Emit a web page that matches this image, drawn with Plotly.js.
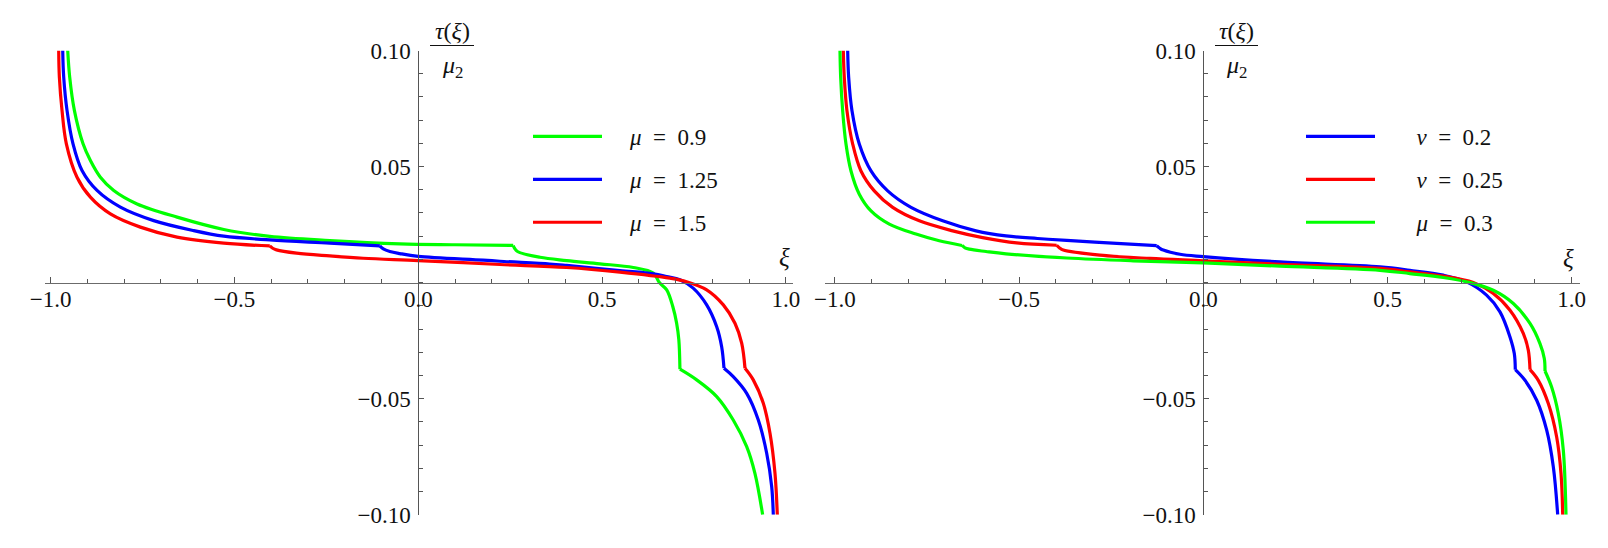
<!DOCTYPE html>
<html>
<head>
<meta charset="utf-8">
<script src="https://cdn.plot.ly/plotly-3.0.1.min.js"></script>
<style>html,body{margin:0;padding:0;background:#fff;}#chart{width:1608px;height:548px;}</style>
</head>
<body>
<div id="chart"></div>
<script>
// ---------- data ----------
// left panel
const xi_mu09 = [-0.9537,-0.9483,-0.9356,-0.9120,-0.8920,-0.8648,-0.8285,-0.7650,-0.6561,-0.5291,-0.4039,-0.2406,-0.0500,0.1000,0.2584,0.2620,0.2700,0.3310,0.4036,0.4943,0.5850,0.6394,0.6560,0.6760,0.6925,0.7030,0.7090,0.7120,0.7575,0.8120,0.8570,0.8936,0.9160,0.9370];
const tau_mu09 = [0.1000,0.0885,0.0742,0.0598,0.0526,0.0454,0.0397,0.0339,0.0282,0.0229,0.0199,0.0181,0.0167,0.0163,0.0160,0.0148,0.0134,0.0109,0.0095,0.0081,0.0065,0.0041,0.0000,-0.0031,-0.0103,-0.0175,-0.0247,-0.0373,-0.0419,-0.0491,-0.0592,-0.0707,-0.0822,-0.1000];
const cusps_mu09 = [14, 27];

const xi_mu125 = [-0.9673,-0.9646,-0.9556,-0.9393,-0.9148,-0.8739,-0.8104,-0.7197,-0.6108,-0.5291,-0.4039,-0.2406,-0.1045,-0.0950,-0.0773,-0.0500,0.0000,0.1767,0.2221,0.3580,0.4036,0.5487,0.6394,0.6758,0.7120,0.7480,0.7847,0.8120,0.8255,0.8318,0.8570,0.8936,0.9252,0.9480,0.9616,0.9660];
const tau_mu125 = [0.1000,0.0885,0.0742,0.0598,0.0483,0.0397,0.0325,0.0267,0.0224,0.0200,0.0184,0.0170,0.0158,0.0145,0.0134,0.0125,0.0113,0.0097,0.0092,0.0080,0.0074,0.0052,0.0038,0.0026,0.0012,-0.0024,-0.0096,-0.0190,-0.0276,-0.0369,-0.0405,-0.0477,-0.0592,-0.0735,-0.0879,-0.1000];
const cusps_mu125 = [12, 29];

const xi_mu15 = [-0.9782,-0.9764,-0.9692,-0.9574,-0.9284,-0.8920,-0.8376,-0.7560,-0.6562,-0.5291,-0.4039,-0.3960,-0.3857,-0.3312,-0.2406,-0.1500,0.0000,0.2220,0.4036,0.5487,0.6848,0.7300,0.7847,0.8300,0.8617,0.8800,0.8890,0.9115,0.9388,0.9570,0.9706,0.9769];
const tau_mu15 = [0.1000,0.0885,0.0742,0.0598,0.0454,0.0368,0.0296,0.0239,0.0196,0.0170,0.0158,0.0148,0.0141,0.0127,0.0115,0.0105,0.0095,0.0078,0.0065,0.0045,0.0019,0.0004,-0.0031,-0.0096,-0.0175,-0.0261,-0.0369,-0.0419,-0.0520,-0.0649,-0.0822,-0.1000];
const cusps_mu15 = [10, 26];

// right panel
const xi_nu02 = [-0.9653,-0.9626,-0.9536,-0.9338,-0.9020,-0.8567,-0.7934,-0.7074,-0.6170,-0.5356,-0.4500,-0.3708,-0.2351,-0.1265,-0.1180,-0.1086,-0.0633,0.0000,0.2082,0.4797,0.5608,0.6512,0.7146,0.7689,0.8053,0.8325,0.8442,0.8469,0.8732,0.9050,0.9321,0.9501,0.9620];
const tau_nu02 = [0.1000,0.0884,0.0740,0.0597,0.0481,0.0395,0.0324,0.0266,0.0223,0.0201,0.0190,0.0182,0.0169,0.0159,0.0148,0.0140,0.0122,0.0112,0.0089,0.0068,0.0053,0.0032,0.0003,-0.0054,-0.0126,-0.0234,-0.0306,-0.0375,-0.0421,-0.0507,-0.0636,-0.0794,-0.1000];
const cusps_nu02 = [13, 27];

const xi_nu025 = [-0.9772,-0.9745,-0.9672,-0.9517,-0.9292,-0.8931,-0.8431,-0.7708,-0.6803,-0.5988,-0.5066,-0.3980,-0.3900,-0.3800,-0.2804,-0.1447,0.0000,0.2082,0.4797,0.5608,0.6512,0.7329,0.7872,0.8325,0.8686,0.8822,0.8868,0.9093,0.9365,0.9592,0.9710,0.9756];
const tau_nu025 = [0.1000,0.0884,0.0740,0.0597,0.0481,0.0395,0.0324,0.0266,0.0223,0.0194,0.0171,0.0161,0.0149,0.0140,0.0118,0.0104,0.0094,0.0079,0.0061,0.0046,0.0028,0.0000,-0.0047,-0.0119,-0.0219,-0.0291,-0.0375,-0.0421,-0.0521,-0.0665,-0.0823,-0.1000];
const cusps_nu025 = [11, 26];

const xi_mu03 = [-0.9862,-0.9843,-0.9789,-0.9699,-0.9563,-0.9338,-0.9020,-0.8523,-0.7799,-0.7166,-0.6550,-0.6470,-0.6352,-0.5899,-0.5356,-0.3708,-0.1900,0.0000,0.2082,0.4797,0.5608,0.6512,0.7239,0.7872,0.8415,0.8868,0.9139,0.9256,0.9275,0.9455,0.9636,0.9772,0.9845];
const tau_mu03 = [0.1000,0.0884,0.0740,0.0597,0.0481,0.0381,0.0309,0.0252,0.0209,0.0180,0.0160,0.0150,0.0144,0.0134,0.0124,0.0106,0.0094,0.0085,0.0071,0.0053,0.0039,0.0022,0.0000,-0.0033,-0.0090,-0.0176,-0.0263,-0.0327,-0.0381,-0.0450,-0.0564,-0.0722,-0.1000];
const cusps_mu03 = [10, 28];

const legendLeft  = ['\u2002\u2002<i>μ</i>\u2002=\u20020.9', '\u2002\u2002<i>μ</i>\u2002=\u20021.25', '\u2002\u2002<i>μ</i>\u2002=\u20021.5'];
const legendRight = ['\u2002\u2002\u2002\u200a<i>ν</i>\u2002=\u20020.2', '\u2002\u2002\u2002\u200a<i>ν</i>\u2002=\u20020.25', '\u2002\u2002\u2002\u200a<i>μ</i>\u2002=\u20020.3'];

const xTickVals = [-1, -0.5, 0, 0.5, 1];
const xTickText = ['\u22121.0', '\u22120.5', '0.0', '0.5', '1.0'];
const yTickVals = [-0.1, -0.05, 0.05, 0.1];
const yTickText = ['\u22120.10', '\u22120.05', '0.05', '0.10'];

// ---------- styling ----------
const GREEN = 'rgb(0,255,0)', BLUE = 'rgb(0,0,255)', RED = 'rgb(255,0,0)';
const LW = 3.2;
const FONT = "'Liberation Serif', 'Times New Roman', serif";
const W = 1608, H = 548;

// one curve -> smooth pieces between its cusps (same legend entry)
function curve(x, y, cusps, name, color, xa, ya, leg, grp) {
  const cuts = [0].concat(cusps, [x.length - 1]);
  const out = [];
  for (let k = 0; k < cuts.length - 1; k++) {
    out.push({
      x: x.slice(cuts[k], cuts[k + 1] + 1), y: y.slice(cuts[k], cuts[k + 1] + 1),
      name: name, type: 'scatter', mode: 'lines',
      line: {color: color, width: LW, shape: 'spline', smoothing: 1},
      xaxis: xa, yaxis: ya, legend: leg, legendgroup: grp,
      showlegend: k === 0, hoverinfo: 'skip'
    });
  }
  return out;
}

const data = [].concat(
  curve(xi_mu09,  tau_mu09,  cusps_mu09,  legendLeft[0],  GREEN, 'x',  'y',  'legend',  'a'),
  curve(xi_mu125, tau_mu125, cusps_mu125, legendLeft[1],  BLUE,  'x',  'y',  'legend',  'b'),
  curve(xi_mu15,  tau_mu15,  cusps_mu15,  legendLeft[2],  RED,   'x',  'y',  'legend',  'c'),
  curve(xi_nu02,  tau_nu02,  cusps_nu02,  legendRight[0], BLUE,  'x2', 'y2', 'legend2', 'd'),
  curve(xi_nu025, tau_nu025, cusps_nu025, legendRight[1], RED,   'x2', 'y2', 'legend2', 'e'),
  curve(xi_mu03,  tau_mu03,  cusps_mu03,  legendRight[2], GREEN, 'x2', 'y2', 'legend2', 'f')
);

// pixel geometry of the two frames
const yTop = 50.5, yBot = 514.7;           // y = 0.1 and y = -0.1
const yDom = [1 - yBot / H, 1 - yTop / H];
const xAxisPos = 1 - ((yTop + yBot) / 2) / H;

function xAxis(l, r, x0px, x1px) {
  const s = (x1px - x0px) / 2;
  return {
    domain: [l / W, r / W],
    range: [-1 - (x0px - l) / s, 1 + (r - x1px) / s],
    anchor: 'free', position: xAxisPos,
    showline: true, linecolor: '#6b6b6b', linewidth: 1.4,
    showgrid: false, zeroline: false,
    tickmode: 'array', tickvals: xTickVals, ticktext: xTickText,
    ticks: 'inside', ticklen: 6, tickwidth: 1, tickcolor: '#555',
    minor: {dtick: 0.1, tick0: 0, ticks: 'inside', ticklen: 3.5, tickwidth: 1, tickcolor: '#555', showgrid: false},
    tickfont: {family: FONT, size: 23, color: '#111'},
    ticklabelstandoff: -5,
    fixedrange: true
  };
}
function yAxis(posPx) {
  return {
    domain: yDom, range: [-0.1, 0.1],
    anchor: 'free', position: posPx / W,
    showline: true, linecolor: '#555', linewidth: 1,
    showgrid: false, zeroline: false,
    tickmode: 'array', tickvals: yTickVals, ticktext: yTickText,
    ticks: 'inside', ticklen: 5, tickwidth: 1, tickcolor: '#555',
    minor: {dtick: 0.01, tick0: 0, ticks: 'inside', ticklen: 3.5, tickwidth: 1, tickcolor: '#555', showgrid: false},
    tickfont: {family: FONT, size: 23, color: '#111'},
    ticklabelstandoff: 3,
    fixedrange: true
  };
}

const xa1 = xAxis(45, 793, 50.7, 785.8);
const xa2 = xAxis(825, 1580, 834.9, 1571.7);
const ya1 = yAxis(418.4);
const ya2 = yAxis(1203.3);

function ann(xpx, ypx, text, size) {
  return {xref: 'paper', yref: 'paper', x: xpx / W, y: 1 - ypx / H, text: text,
          showarrow: false, xanchor: 'center', yanchor: 'middle',
          font: {family: FONT, size: size, color: '#111'}};
}

const legendBase = {xanchor: 'left', yanchor: 'top', bgcolor: 'rgba(0,0,0,0)', borderwidth: 0,
                    itemwidth: 69, tracegroupgap: 10, traceorder: 'grouped',
                    font: {family: FONT, size: 23, color: '#111'}};

const FR_TOP = 31, FR_BAR = 45.5, FR_BOT = 67;   // fraction label rows (px from top)

const layout = {
  width: W, height: H, autosize: false,
  margin: {l: 0, r: 0, t: 0, b: 0, pad: 0},
  font: {family: FONT, size: 23, color: '#111'},
  paper_bgcolor: '#fff', plot_bgcolor: 'rgba(0,0,0,0)',
  showlegend: true,
  xaxis: xa1, yaxis: ya1, xaxis2: xa2, yaxis2: ya2,
  legend: Object.assign({}, legendBase, {x: 528 / W, y: 1 - 115 / H}),
  legend2: Object.assign({}, legendBase, {x: 1301 / W, y: 1 - 115 / H}),
  annotations: [
    ann(784, 257, '<i>ξ</i>', 25),
    ann(1568, 258, '<i>ξ</i>', 25),
    ann(452, FR_TOP, '<i>τ</i>(<i>ξ</i>)', 24),
    ann(452, FR_BOT, '<i>μ</i><sub>2</sub>', 24),
    ann(1236, FR_TOP, '<i>τ</i>(<i>ξ</i>)', 24),
    ann(1236, FR_BOT, '<i>μ</i><sub>2</sub>', 24)
  ],
  shapes: [
    {type: 'line', xref: 'paper', yref: 'paper', x0: 430 / W, x1: 474 / W, y0: 1 - FR_BAR / H, y1: 1 - FR_BAR / H, line: {color: '#111', width: 1}},
    {type: 'line', xref: 'paper', yref: 'paper', x0: 1215 / W, x1: 1258 / W, y0: 1 - FR_BAR / H, y1: 1 - FR_BAR / H, line: {color: '#111', width: 1}}
  ]
};

Plotly.newPlot('chart', data, layout, {staticPlot: true, displayModeBar: false});
</script>
</body>
</html>
